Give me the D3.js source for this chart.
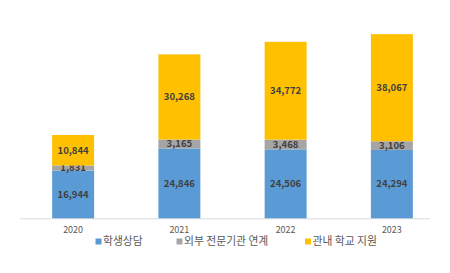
<!DOCTYPE html>
<html><head><meta charset="utf-8">
<script src="https://cdn.jsdelivr.net/npm/d3@7"></script>
<style>body{margin:0;background:#fff}svg{display:block}</style>
</head><body>
<svg id="c" width="450" height="273"></svg>
<script>
const years = ["2020","2021","2022","2023"];
const seriesNames = ["학생상담","외부 전문기관 연계","관내 학교 지원"];
const counseling = [16944, 24846, 24506, 24294];
const external = [1831, 3165, 3468, 3106];
const school = [10844, 30268, 34772, 38067];
const colors = ["#5B9BD5","#A5A5A5","#FFC000"];

const svg = d3.select("#c");
const font = "'Malgun Gothic','Noto Sans CJK KR','Noto Sans',sans-serif";
const x = d3.scaleBand().domain(years).range([20, 445]).paddingInner(0.605).paddingOuter(0.3025);
const y = d3.scaleLinear().domain([0, 70000]).range([218.3, 21.4]);

const table = years.map((yr,i)=>({year:yr, s0:counseling[i], s1:external[i], s2:school[i]}));
const stack = d3.stack().keys(["s0","s1","s2"])(table);

svg.append("line").attr("x1",20).attr("x2",430).attr("y1",y(0)+0.5).attr("y2",y(0)+0.5)
  .attr("stroke","#D9D9D9").attr("stroke-width",1);

stack.forEach((layer,k)=>{
  const g = svg.append("g");
  g.selectAll("rect").data(layer).join("rect")
    .attr("x",d=>x(d.data.year)).attr("width",x.bandwidth())
    .attr("y",d=>y(d[1])).attr("height",d=>y(d[0])-y(d[1]))
    .attr("fill",colors[k]);
  g.selectAll("text").data(layer).join("text")
    .attr("x",d=>x(d.data.year)+x.bandwidth()/2)
    .attr("y",d=>(y(d[0])+y(d[1]))/2)
    .attr("dy","0.35em").attr("text-anchor","middle")
    .attr("font-family",font).attr("font-size",9.5).attr("font-weight","bold")
    .attr("fill","#404040")
    .text(d=>d3.format(",")(d[1]-d[0]));
});

svg.append("g").selectAll("text").data(years).join("text")
  .attr("x",d=>x(d)+x.bandwidth()/2).attr("y",230).attr("dy","0.35em")
  .attr("text-anchor","middle").attr("font-family",font).attr("font-size",9)
  .attr("fill","#595959").text(d=>d);

const legX = [95.5, 176.5, 305];
const lg = svg.append("g");
seriesNames.forEach((n,i)=>{
  lg.append("rect").attr("x",legX[i]).attr("y",238.5).attr("width",6).attr("height",6).attr("fill",colors[i]);
  lg.append("text").attr("x",legX[i]+7.5).attr("y",241.7).attr("dy","0.35em")
    .attr("font-family",font).attr("font-size",10.8).attr("fill","#595959").text(n);
});
</script>
</body></html>
